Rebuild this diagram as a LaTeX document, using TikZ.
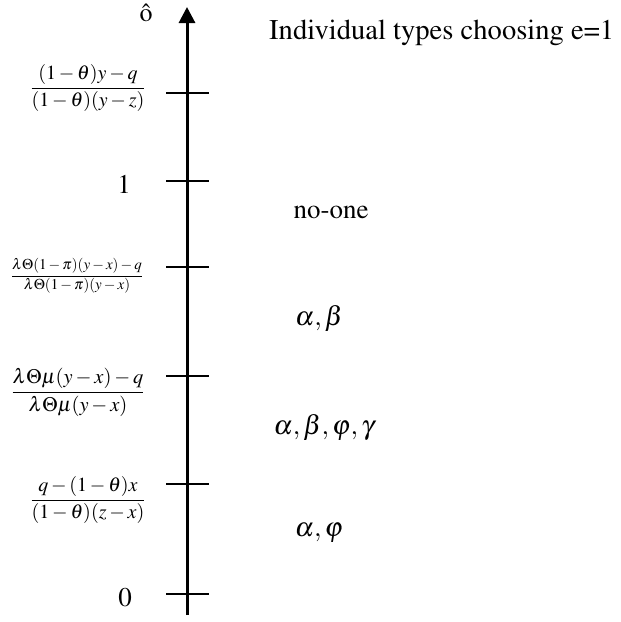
\documentclass[tikz,border=0pt]{standalone}
\usepackage[T1]{fontenc}
\usepackage{mathptmx}
\usetikzlibrary{arrows.meta}
\begin{document}
\begin{tikzpicture}[x=1pt,y=-1pt,
  axisline/.style={line width=3pt,-{Triangle[length=16pt,width=16pt]}},
  tickline/.style={line width=1.8pt},
  lab/.style={inner sep=0pt,font=\fontsize{27}{30}\selectfont},
  fraclab/.style={inner sep=0pt},
  setlab/.style={inner sep=0pt,font=\fontsize{27}{30}\selectfont}]
\useasboundingbox (0,0) rectangle (621,622);
% axis
\coordinate (bot) at (187,615);
\coordinate (top) at (187,7);
\draw[axisline] (bot) -- (top);
% ticks
\foreach \n/\y in {a/93,b/181,c/267,d/376,e/484,f/594}{
  \coordinate (L\n) at (166,\y);
  \coordinate (R\n) at (209,\y);
  \draw[tickline] (L\n) -- (R\n);
}
% axis name and title
\node[inner sep=0pt,font=\fontsize{26}{28}\selectfont] (oh) at (146,13) {\^{o}};
\node[inner sep=0pt,anchor=base west,font=\fontsize{28.6}{31}\selectfont] (title) at (269,39) {Individual types choosing e=1};
% left labels
\node[fraclab,font=\fontsize{20}{22}\selectfont] (f1) at (88,88) {$\displaystyle\frac{(1-\theta)y-q}{(1-\theta)(y-z)}$};
\node[lab] (one) at (124,184) {1};
\node[fraclab,font=\fontsize{15}{17}\selectfont] (f2) at (77,276) {$\displaystyle\frac{\lambda\Theta(1-\pi)(y-x)-q}{\lambda\Theta(1-\pi)(y-x)}$};
\node[fraclab,font=\fontsize{20.5}{23}\selectfont] (f3) at (78,392) {$\displaystyle\frac{\lambda\Theta\mu(y-x)-q}{\lambda\Theta\mu(y-x)}$};
\node[fraclab,font=\fontsize{20}{22}\selectfont] (f4) at (88,500) {$\displaystyle\frac{q-(1-\theta)x}{(1-\theta)(z-x)}$};
\node[lab] (zero) at (125,597) {0};
% right labels
\node[lab] (none) at (331,212) {no-one};
\node[setlab] (s1) at (319,318) {$\alpha,\beta$};
\node[setlab] (s2) at (324,427) {$\alpha,\beta,\varphi,\gamma$};
\node[setlab] (s3) at (319,533) {$\alpha,\varphi$};
\end{tikzpicture}
\end{document}
